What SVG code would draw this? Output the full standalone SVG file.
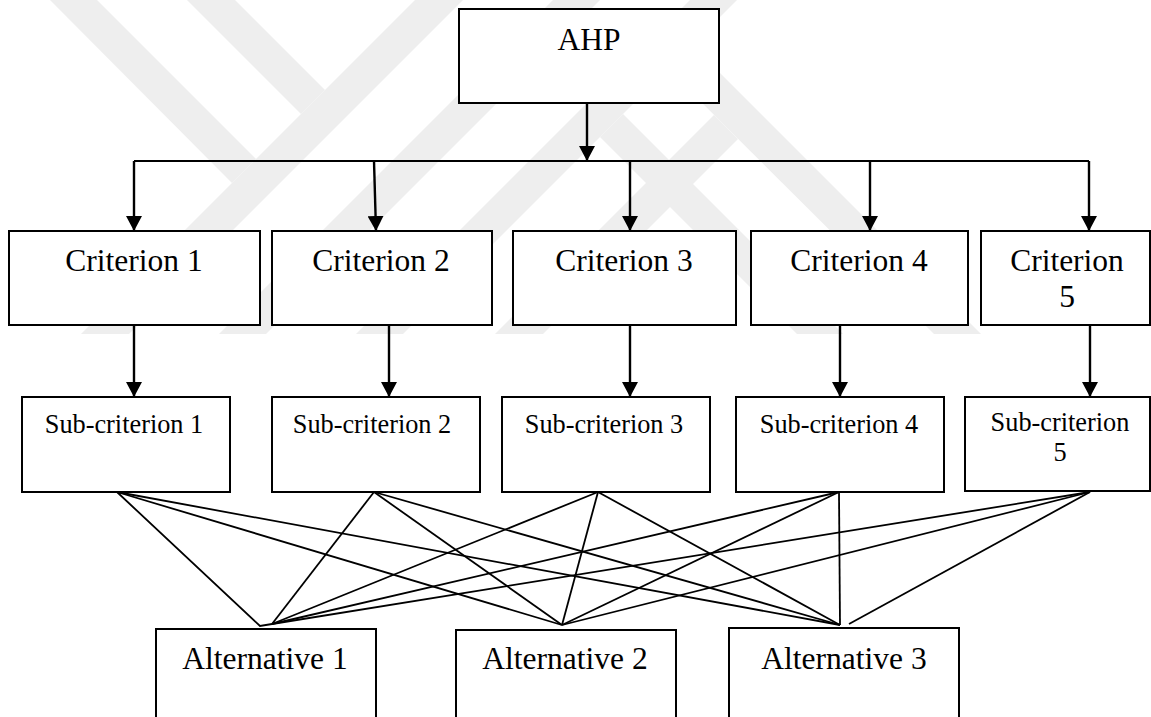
<svg xmlns="http://www.w3.org/2000/svg" width="1151" height="717" viewBox="0 0 1151 717">
  <style>
    .box { fill: #ffffff; stroke: #000000; stroke-width: 2; }
    .lbl { font-family: "Liberation Serif", "Times New Roman", serif; font-size: 31.5px; fill: #000000; text-anchor: middle; }
    .sub { font-family: "Liberation Serif", "Times New Roman", serif; font-size: 26.3px; fill: #000000; text-anchor: middle; }
    .arrow { stroke: #000000; stroke-width: 2.4; fill: none; }
    .bus { stroke: #000000; stroke-width: 2; fill: none; }
    .link { stroke: #000000; stroke-width: 1.8; fill: none; }
    .wm { fill: #eeeeee; }
  </style>
  <defs>
    <marker id="head" viewBox="0 0 15 16" refX="15" refY="8" markerWidth="15" markerHeight="16" markerUnits="userSpaceOnUse" orient="auto">
      <path d="M0,0 L15,8 L0,16 z" fill="#000000"/>
    </marker>
  </defs>

  <rect width="1151" height="717" fill="#ffffff"/>

  <!-- faint background emblem made of diagonal bands -->
  <g id="emblem">
    <!-- bands running down to the left -->
    <polygon class="wm" points="415,0 463,0 129,334 81,334"/>
    <polygon class="wm" points="553,0 600,0 266,334 219,334"/>
    <polygon class="wm" points="690,0 737,0 403,334 356,334"/>
    <polygon class="wm" points="714,115 738,139 543,334 495,334"/>
    <!-- bands running down to the right -->
    <polygon class="wm" points="50,0 97,0 256,159 232,183"/>
    <polygon class="wm" points="187,0 235,0 325,90 301,114"/>
    <polygon class="wm" points="600,137 623,114 843,334 797,334"/>
    <polygon class="wm" points="668,69 692,45 981,334 934,334"/>
  </g>

  <!-- connectors -->
  <g id="connectors">
    <line class="arrow" x1="587" y1="103" x2="587" y2="161" marker-end="url(#head)"/>
    <polyline class="bus" points="134,161 1089,161"/>
    <line class="arrow" x1="134" y1="161" x2="134" y2="231" marker-end="url(#head)"/>
    <line class="arrow" x1="374" y1="161" x2="376" y2="231" marker-end="url(#head)"/>
    <line class="arrow" x1="630" y1="161" x2="630" y2="231" marker-end="url(#head)"/>
    <line class="arrow" x1="870" y1="161" x2="870" y2="231" marker-end="url(#head)"/>
    <line class="arrow" x1="1089" y1="161" x2="1089" y2="231" marker-end="url(#head)"/>

    <line class="arrow" x1="134" y1="326" x2="134" y2="397" marker-end="url(#head)"/>
    <line class="arrow" x1="389" y1="326" x2="389" y2="397" marker-end="url(#head)"/>
    <line class="arrow" x1="630" y1="326" x2="630" y2="397" marker-end="url(#head)"/>
    <line class="arrow" x1="840" y1="326" x2="840" y2="397" marker-end="url(#head)"/>
    <line class="arrow" x1="1090" y1="326" x2="1090" y2="397" marker-end="url(#head)"/>

    <!-- sub-criteria to alternatives -->
    <polyline class="link" points="117,492 260,626 272,624"/>
    <line class="link" x1="374" y1="492" x2="272" y2="624"/>
    <line class="link" x1="598" y1="492" x2="272" y2="624"/>
    <line class="link" x1="839" y1="492" x2="272" y2="624"/>
    <line class="link" x1="1090" y1="492" x2="272" y2="624"/>

    <line class="link" x1="117" y1="492" x2="562" y2="625"/>
    <line class="link" x1="374" y1="492" x2="562" y2="625"/>
    <line class="link" x1="598" y1="492" x2="562" y2="625"/>
    <line class="link" x1="839" y1="492" x2="562" y2="625"/>
    <line class="link" x1="1090" y1="492" x2="562" y2="625"/>

    <line class="link" x1="117" y1="492" x2="840" y2="625"/>
    <line class="link" x1="374" y1="492" x2="840" y2="625"/>
    <line class="link" x1="598" y1="492" x2="840" y2="625"/>
    <line class="link" x1="839" y1="492" x2="840" y2="625"/>
    <line class="link" x1="1090" y1="492" x2="849" y2="624"/>
  </g>

  <g id="ahp">
    <rect class="box" x="459" y="9" width="260" height="94"/>
    <text class="lbl" x="589" y="50">AHP</text>
  </g>

  <g id="criterion-1">
    <rect class="box" x="9" y="231" width="251" height="94"/>
    <text class="lbl" x="134" y="271">Criterion 1</text>
  </g>
  <g id="criterion-2">
    <rect class="box" x="272" y="231" width="220" height="94"/>
    <text class="lbl" x="381" y="271">Criterion 2</text>
  </g>
  <g id="criterion-3">
    <rect class="box" x="513" y="231" width="223" height="94"/>
    <text class="lbl" x="624" y="271">Criterion 3</text>
  </g>
  <g id="criterion-4">
    <rect class="box" x="751" y="231" width="217" height="94"/>
    <text class="lbl" x="859" y="271">Criterion 4</text>
  </g>
  <g id="criterion-5">
    <rect class="box" x="981" y="231" width="169" height="94"/>
    <text class="lbl" x="1067" y="271">Criterion</text>
    <text class="lbl" x="1067" y="307">5</text>
  </g>

  <g id="sub-criterion-1">
    <rect class="box" x="22" y="397" width="208" height="95"/>
    <text class="sub" x="124" y="433">Sub-criterion 1</text>
  </g>
  <g id="sub-criterion-2">
    <rect class="box" x="272" y="397" width="208" height="95"/>
    <text class="sub" x="372" y="433">Sub-criterion 2</text>
  </g>
  <g id="sub-criterion-3">
    <rect class="box" x="502" y="397" width="208" height="95"/>
    <text class="sub" x="604" y="433">Sub-criterion 3</text>
  </g>
  <g id="sub-criterion-4">
    <rect class="box" x="736" y="397" width="208" height="95"/>
    <text class="sub" x="839" y="433">Sub-criterion 4</text>
  </g>
  <g id="sub-criterion-5">
    <rect class="box" x="965" y="397" width="185" height="94"/>
    <text class="sub" x="1060" y="431">Sub-criterion</text>
    <text class="sub" x="1060" y="461">5</text>
  </g>

  <g id="alternative-1">
    <rect class="box" x="156" y="629" width="220" height="100"/>
    <text class="lbl" x="265" y="669">Alternative 1</text>
  </g>
  <g id="alternative-2">
    <rect class="box" x="456" y="630" width="220" height="100"/>
    <text class="lbl" x="565" y="669">Alternative 2</text>
  </g>
  <g id="alternative-3">
    <rect class="box" x="729" y="628" width="230" height="100"/>
    <text class="lbl" x="844" y="669">Alternative 3</text>
  </g>
</svg>
